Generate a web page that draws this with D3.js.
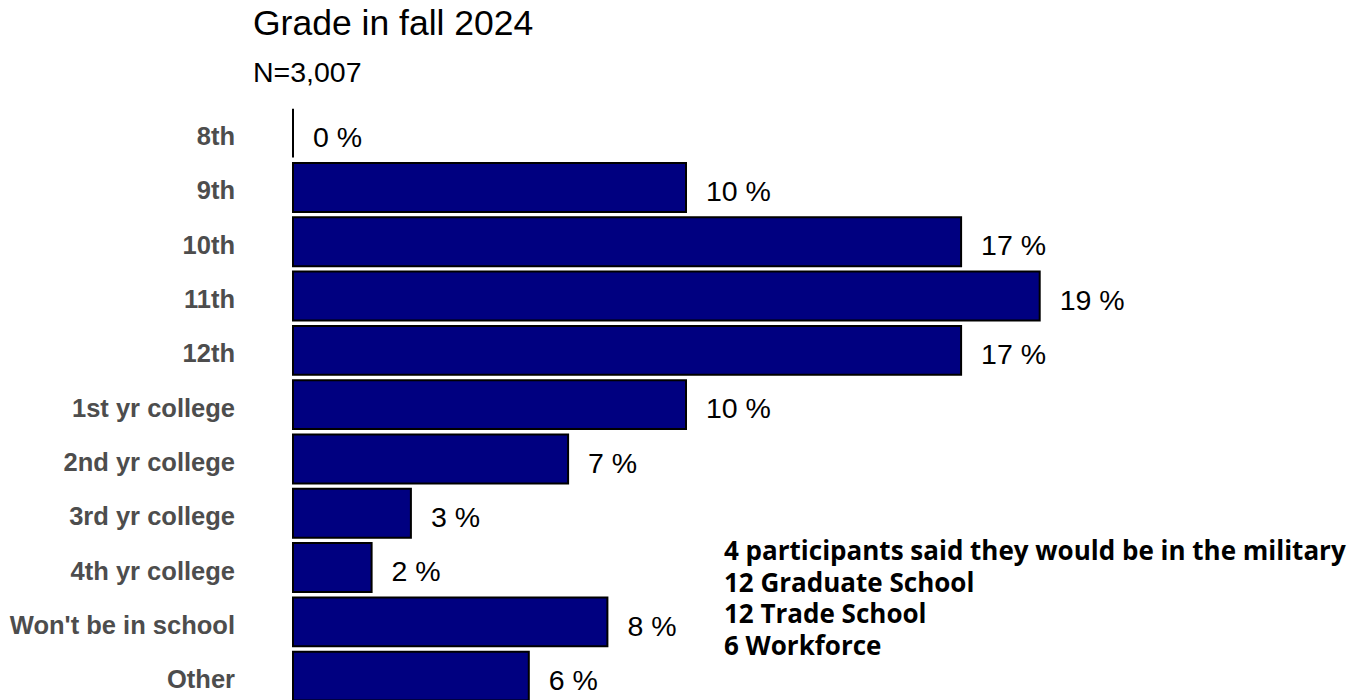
<!DOCTYPE html>
<html>
<head>
<meta charset="utf-8">
<script src="https://cdn.jsdelivr.net/npm/d3@7"></script>
<style>
  html, body { margin: 0; padding: 0; background: #fff; }
  svg { display: block; }
</style>
</head>
<body>
<svg id="chart" width="1372" height="700"></svg>
<script>
// Grade distribution, fall 2024
const categories = ["8th", "9th", "10th", "11th", "12th", "1st yr college", "2nd yr college",
                    "3rd yr college", "4th yr college", "Won't be in school", "Other"];
const percents = [0, 10, 17, 19, 17, 10, 7, 3, 2, 8, 6];
const titleText = "Grade in fall 2024";
const subtitleText = "N=3,007";
const notes = [
  "4 participants said they would be in the military",
  "12 Graduate School",
  "12 Trade School",
  "6 Workforce"
];

const svg = d3.select("#chart");

const x = d3.scaleLinear().domain([0, 20]).range([293, 293 + 20 * 39.3]);
const y = d3.scaleBand()
  .domain(categories)
  .range([106, 703.3])
  .paddingInner(0.1)
  .paddingOuter(0.05);

// Title and sample size
svg.append("text")
  .attr("x", 253).attr("y", 35)
  .attr("font-family", "Liberation Sans, Arial, sans-serif")
  .attr("font-size", 35.5)
  .attr("fill", "#000")
  .text(titleText);

svg.append("text")
  .attr("x", 253).attr("y", 82)
  .attr("font-family", "Liberation Sans, Arial, sans-serif")
  .attr("font-size", 28.5)
  .attr("fill", "#000")
  .text(subtitleText);

// Category axis (labels only)
const yAxis = d3.axisLeft(y).tickSize(0).tickPadding(0);
const gAxis = svg.append("g")
  .attr("transform", "translate(235,0)")
  .call(yAxis);
gAxis.select(".domain").remove();
gAxis.selectAll("text")
  .attr("font-family", "Liberation Sans, Arial, sans-serif")
  .attr("font-size", 25.5)
  .attr("font-weight", "bold")
  .attr("fill", "#4D4D4D")
  .attr("dy", null)
  .attr("dominant-baseline", "central")
  .attr("y", 3);

const rows = categories.map((c, i) => ({ cat: c, v: percents[i] }));

// Bars as closed paths so a zero-length bar still shows its outline
svg.append("g")
  .selectAll("path")
  .data(rows)
  .join("path")
  .attr("d", d => {
    const x0 = x(0), x1 = x(d.v), y0 = y(d.cat), y1 = y0 + y.bandwidth();
    return `M${x0},${y0}V${y1}H${x1}V${y0}Z`;
  })
  .attr("fill", "#000080")
  .attr("stroke", "#000")
  .attr("stroke-width", 2);

// Value labels
svg.append("g")
  .selectAll("text")
  .data(rows)
  .join("text")
  .attr("x", d => x(d.v) + 20)
  .attr("y", d => y(d.cat) + y.bandwidth() / 2 + 13.7)
  .attr("font-family", "Liberation Sans, Arial, sans-serif")
  .attr("font-size", 28.5)
  .attr("fill", "#000")
  .text(d => d.v + " %");

// Side notes
svg.append("g")
  .selectAll("text")
  .data(notes)
  .join("text")
  .attr("x", 724)
  .attr("y", (d, i) => 560 + i * 31.7)
  .attr("font-family", "Open Sans, sans-serif")
  .attr("font-weight", 700)
  .attr("font-size", 26)
  .attr("fill", "#000")
  .text(d => d);
</script>
</body>
</html>
